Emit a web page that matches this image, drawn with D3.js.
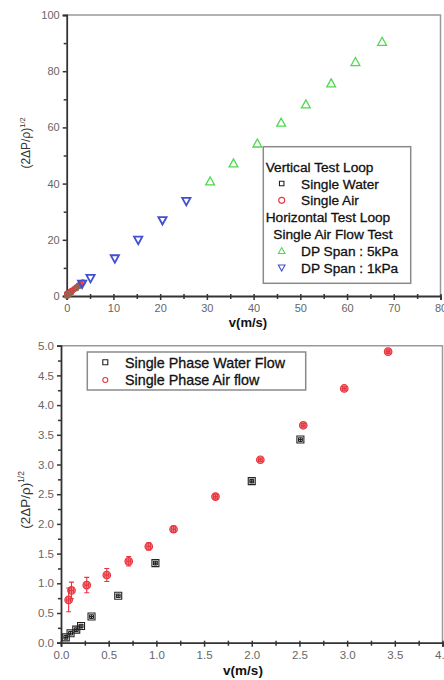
<!DOCTYPE html>
<html>
<head>
<meta charset="utf-8">
<script src="https://cdn.jsdelivr.net/npm/d3@7/dist/d3.min.js"></script>
<style>
  html, body { margin: 0; padding: 0; background: #fff; }
  svg { display: block; font-family: "Liberation Sans", Arial, sans-serif; }
</style>
</head>
<body>
<svg id="chart" width="444" height="680"></svg>
<script>
// ---- Data ----
// Vertical test loop, single-phase water flow
const waterV   = [0.05, 0.10, 0.16, 0.21, 0.32, 0.60, 0.99, 2.00, 2.51];
const waterY   = [0.09, 0.16, 0.22, 0.28, 0.44, 0.79, 1.34, 2.72, 3.42];
const waterErrY = [0.03, 0.03, 0.03, 0.03, 0.03, 0.03, 0.03, 0.03, 0.03];
const waterErrV = [0.02, 0.02, 0.02, 0.02, 0.02, 0.02, 0.02, 0.02, 0.02];

// Vertical test loop, single-phase air flow
const airV    = [0.08, 0.11, 0.27, 0.48, 0.71, 0.92, 1.18, 1.62, 2.09, 2.54, 2.97, 3.43];
const airY    = [0.72, 0.88, 0.97, 1.14, 1.37, 1.62, 1.91, 2.46, 3.08, 3.66, 4.28, 4.90];
const airErrY = [0.20, 0.14, 0.13, 0.11, 0.08, 0.06, 0.05, 0.04, 0.03, 0.03, 0.03, 0.03];
const airErrV = [0.02, 0.02, 0.02, 0.02, 0.02, 0.02, 0.02, 0.02, 0.02, 0.02, 0.02, 0.02];

// Horizontal test loop, single air flow test
const span5V = [30.7, 35.7, 40.8, 45.9, 51.2, 56.6, 61.8, 67.5];
const span5Y = [40.8, 47.2, 54.3, 61.7, 68.2, 75.7, 83.3, 90.5];
const span1V = [3.3, 5.1, 10.3, 15.3, 20.5, 25.6];
const span1Y = [4.3, 6.3, 13.3, 19.9, 26.9, 33.7];

// Axis ticks
const topXTicks = [0, 10, 20, 30, 40, 50, 60, 70, 80];
const topYTicks = [0, 20, 40, 60, 80, 100];
const botXTicks = [0, 0.5, 1.0, 1.5, 2.0, 2.5, 3.0, 3.5, 4.0];
const botYTicks = [0, 0.5, 1.0, 1.5, 2.0, 2.5, 3.0, 3.5, 4.0, 4.5, 5.0];

// Legend entries
const topLegend = [
  { kind: "head", text: "Vertical Test Loop" },
  { kind: "item", sym: "square", text: "Single Water" },
  { kind: "item", sym: "circle", text: "Single Air" },
  { kind: "head", text: "Horizontal Test Loop" },
  { kind: "sub",  text: "Single Air Flow Test" },
  { kind: "item", sym: "up",   text: "DP Span : 5kPa" },
  { kind: "item", sym: "down", text: "DP Span : 1kPa" }
];
const botLegend = [
  { sym: "square", text: "Single Phase Water Flow" },
  { sym: "circle", text: "Single Phase Air flow" }
];

// ---- Styles ----
const COL = {
  water: "#222",
  air: "#e8343e",
  airFill: "rgba(232,52,62,0.55)",
  green: "#4fd84f",
  blue: "#4150d0",
  axis: "#333",
  frame: "#999",
  tickText: "#666",
  text: "#111"
};

const svg = d3.select("#chart");

function symbolPath(sym, size) {
  const s = size;
  if (sym === "square") return `M${-s/2},${-s/2}h${s}v${s}h${-s}Z`;
  if (sym === "up") return `M0,${-s*0.55}L${s*0.55},${s*0.45}L${-s*0.55},${s*0.45}Z`;
  if (sym === "down") return `M0,${s*0.55}L${s*0.55},${-s*0.45}L${-s*0.55},${-s*0.45}Z`;
  return null;
}

function drawSymbol(g, sym, x, y, size, stroke, fill, sw) {
  if (sym === "circle") {
    g.append("circle").attr("cx", x).attr("cy", y).attr("r", size / 2)
      .attr("fill", fill).attr("stroke", stroke).attr("stroke-width", sw);
  } else {
    g.append("path").attr("transform", `translate(${x},${y})`)
      .attr("d", symbolPath(sym, size))
      .attr("fill", fill).attr("stroke", stroke).attr("stroke-width", sw);
  }
}

function minorTicks(major) {
  const out = [];
  for (let i = 0; i < major.length - 1; i++) out.push((major[i] + major[i + 1]) / 2);
  return out;
}

function drawFrame(g, x, y, xTicks, yTicks, fmt, fontSize) {
  const [x0, x1] = x.range();
  const [y0, y1] = y.range();
  // top and right border
  g.append("path")
    .attr("d", `M${x0},${y1}H${x1}V${y0}`)
    .attr("fill", "none").attr("stroke", COL.frame).attr("stroke-width", 1.5);

  // bottom axis
  const xa = g.append("g").attr("transform", `translate(0,${y0})`)
    .call(d3.axisBottom(x).tickValues(xTicks).tickSize(4).tickPadding(4).tickFormat(fmt));
  xa.append("g").call(d3.axisBottom(x).tickValues(minorTicks(xTicks)).tickSize(3).tickFormat(""));
  xa.selectAll(".tick line").attr("y1", -2);
  // left axis
  const ya = g.append("g").attr("transform", `translate(${x0},0)`)
    .call(d3.axisLeft(y).tickValues(yTicks).tickSize(4).tickPadding(3).tickFormat(fmt));
  ya.append("g").call(d3.axisLeft(y).tickValues(minorTicks(yTicks)).tickSize(3).tickFormat(""));

  [xa, ya].forEach(a => {
    a.selectAll(".domain").attr("stroke", COL.axis).attr("stroke-width", 1.8);
    a.selectAll("path.domain").filter(function () { return this.parentNode !== a.node(); }).remove();
    a.selectAll(".tick line").attr("stroke", COL.axis).attr("stroke-width", 1.5);
    a.selectAll(".tick text").attr("fill", COL.tickText)
      .attr("font-size", fontSize).attr("font-family", "Liberation Sans, Arial, sans-serif");
  });
}

function yTitle(g, cx, cy, size) {
  const t = g.append("text")
    .attr("transform", `translate(${cx},${cy}) rotate(-90)`)
    .attr("text-anchor", "middle")
    .attr("fill", "#333")
    .attr("font-size", size);
  t.append("tspan").text("(2\u0394P/\u03C1)");
  t.append("tspan").attr("dy", -size * 0.45).attr("font-size", size * 0.62).text("1/2");
}

function xTitle(g, cx, by, size) {
  g.append("text").attr("x", cx).attr("y", by)
    .attr("text-anchor", "middle").attr("font-weight", "bold")
    .attr("fill", COL.text).attr("font-size", size).text("v(m/s)");
}

function errorBars(g, x, y, vs, ys, ev, ey, color, cap) {
  vs.forEach((v, i) => {
    const px = x(v), py = y(ys[i]);
    const yt = y(ys[i] + ey[i]), yb = y(ys[i] - ey[i]);
    const xl = x(v - ev[i]), xr = x(v + ev[i]);
    g.append("path")
      .attr("d", `M${px},${yt}V${yb}M${px - cap},${yt}H${px + cap}M${px - cap},${yb}H${px + cap}` +
                 `M${xl},${py}H${xr}M${xl},${py - cap}V${py + cap}M${xr},${py - cap}V${py + cap}`)
      .attr("fill", "none").attr("stroke", color).attr("stroke-width", 1.1);
  });
}

function legendText(g, x, y, size, text) {
  g.append("text").attr("x", x).attr("y", y)
    .attr("fill", COL.text).attr("stroke", COL.text).attr("stroke-width", 0.3)
    .attr("font-size", size).text(text);
}

// ================= Top chart =================
{
  const g = svg.append("g");
  const x = d3.scaleLinear().domain([0, 80]).range([66.7, 440.5]);
  const y = d3.scaleLinear().domain([0, 100]).range([296, 15]);
  drawFrame(g, x, y, topXTicks, topYTicks, d3.format("d"), 11);

  const pts = g.append("g");
  // single water / single air near the origin
  airV.forEach((v, i) => drawSymbol(pts, "circle", x(v), y(airY[i]), 5, COL.air, COL.airFill, 1.2));
  waterV.forEach((v, i) => drawSymbol(pts, "square", x(v), y(waterY[i]), 4.5, "#8a6a55", "none", 1));
  span1V.forEach((v, i) => drawSymbol(pts, "down", x(v), y(span1Y[i]), 7.5, COL.blue, "none", 1.8));
  span5V.forEach((v, i) => drawSymbol(pts, "up", x(v), y(span5Y[i]), 8, COL.green, "none", 1.3));

  // legend
  const lg = g.append("g");
  lg.append("rect").attr("x", 263.3).attr("y", 146.7).attr("width", 147.4).attr("height", 136.6)
    .attr("fill", "#fff").attr("stroke", "#8a8a8a").attr("stroke-width", 1.5);
  const rowY = d3.scaleLinear().domain([0, 6]).range([166.7, 267.7]);
  topLegend.forEach((d, i) => {
    const cy = rowY(i);
    let tx = 265.7;
    if (d.kind === "item") {
      tx = 301;
      const c = d.sym === "square" ? COL.water : d.sym === "circle" ? COL.air
              : d.sym === "up" ? COL.green : COL.blue;
      drawSymbol(lg, d.sym, 281.7, cy, d.sym === "square" ? 4.5 : 6, c, "none", 1.1);
    } else if (d.kind === "sub") {
      tx = 273.3;
    }
    legendText(lg, tx, cy + 5, 13.7, d.text);
  });

  yTitle(g, 30, 143, 12);
  xTitle(g, 248, 327, 13);
}

// ================= Bottom chart =================
{
  const g = svg.append("g");
  const x = d3.scaleLinear().domain([0, 4]).range([61, 442.5]);
  const y = d3.scaleLinear().domain([0, 5]).range([642.7, 345.7]);
  drawFrame(g, x, y, botXTicks, botYTicks, d3.format(".1f"), 11.5);

  const pts = g.append("g");
  waterV.forEach((v, i) => drawSymbol(pts, "square", x(v), y(waterY[i]), 7, COL.water, "none", 1.1));
  errorBars(pts, x, y, waterV, waterY, waterErrV, waterErrY, COL.water, 2);
  airV.forEach((v, i) => drawSymbol(pts, "circle", x(v), y(airY[i]), 7.5, COL.air, COL.airFill, 1.2));
  errorBars(pts, x, y, airV, airY, airErrV, airErrY, COL.air, 2.5);

  // legend
  const lg = g.append("g");
  lg.append("rect").attr("x", 87.3).attr("y", 352).attr("width", 218.4).attr("height", 38)
    .attr("fill", "#fff").attr("stroke", "#8a8a8a").attr("stroke-width", 1.5);
  botLegend.forEach((d, i) => {
    const cy = 362.3 + i * 17.7;
    const c = d.sym === "square" ? COL.water : COL.air;
    drawSymbol(lg, d.sym, 105.3, cy, 5, c, "none", 1.1);
    legendText(lg, 125, cy + 5.2, 14.3, d.text);
  });

  yTitle(g, 30, 500, 13.5);
  xTitle(g, 243, 675, 13.5);
}
</script>
</body>
</html>
